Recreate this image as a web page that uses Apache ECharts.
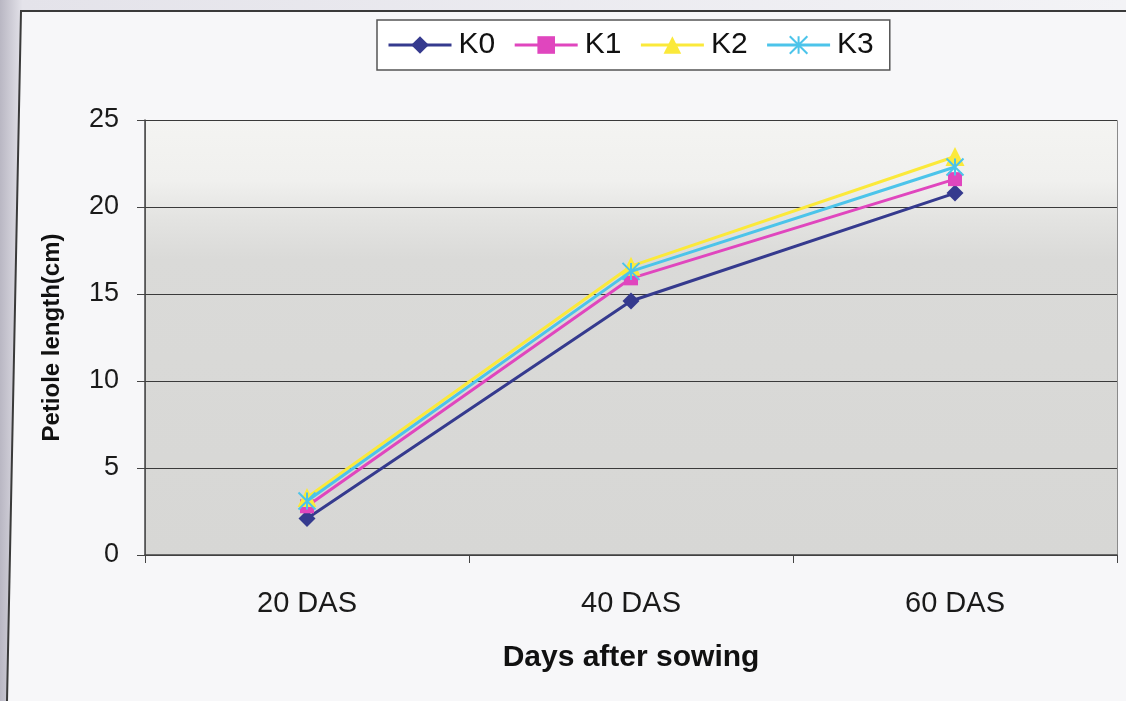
<!DOCTYPE html>
<html>
<head>
<meta charset="utf-8">
<script src="https://cdn.jsdelivr.net/npm/echarts@6/dist/echarts.min.js"></script>
<style>
  html, body { margin: 0; padding: 0; background: #f6f6f8; }
  #chart { width: 1126px; height: 701px; }
</style>
</head>
<body>
<div id="chart"></div>
<script>
// Petiole length (cm) at each sampling date, per potassium treatment
const categories = ['20 DAS', '40 DAS', '60 DAS'];
const seriesNames = ['K0', 'K1', 'K2', 'K3'];
const k0 = [2.1, 14.6, 20.8];
const k1 = [2.8, 15.9, 21.6];
const k2 = [3.3, 16.6, 22.9];
const k3 = [3.1, 16.3, 22.3];
const yTicks = { min: 0, max: 25, interval: 5 };

const colors = ['#353a8e', '#e046be', '#fbe93a', '#4cc4ea'];
const symbols = ['diamond', 'rect', 'triangle', 'path://M0,0L10,10M10,0L0,10M5,0L5,10'];
const sizes = [17, 14, 19, 17];
const values = [k0, k1, k2, k3];
const FONT = 'Liberation Sans, Arial, sans-serif';

const chart = echarts.init(document.getElementById('chart'));

const series = seriesNames.map((name, i) => ({
  name,
  type: 'line',
  data: values[i],
  symbol: symbols[i],
  symbolSize: sizes[i],
  lineStyle: { color: colors[i], width: 3 },
  itemStyle: i === 3
    ? { color: colors[i], borderColor: colors[i], borderWidth: 2 }
    : { color: colors[i], borderWidth: 0 },
  z: 3 + i
}));

chart.setOption({
  backgroundColor: '#f7f7f9',
  animation: false,
  graphic: [
    // shaded margin outside the chart frame
    { type: 'polygon', shape: { points: [[0, 0], [1126, 0], [1126, 11], [21, 11], [7, 701], [0, 701]] },
      style: { fill: new echarts.graphic.LinearGradient(0, 0, 1, 0, [
        { offset: 0, color: '#b9b7c3' }, { offset: 0.02, color: '#e4e3ea' }, { offset: 1, color: '#f3f3f6' }
      ]) }, z: 0 },
    // chart frame (top and left edges)
    { type: 'polyline', shape: { points: [[1126, 11], [21, 11], [7, 701]] },
      style: { stroke: '#3a3a3a', lineWidth: 2, fill: null }, z: 1 },
    // plot area background, lighter toward the top
    { type: 'rect', left: 145, top: 120, shape: { width: 972, height: 435 },
      style: {
        fill: new echarts.graphic.LinearGradient(0, 0, 0, 1, [
          { offset: 0, color: '#f4f4f2' },
          { offset: 0.14, color: '#f0f0ee' },
          { offset: 0.22, color: '#e4e4e2' },
          { offset: 0.32, color: '#dadad8' },
          { offset: 1, color: '#d7d7d5' }
        ]),
        stroke: '#8a8a8a', lineWidth: 1
      }, z: -1 }
  ],
  legend: {
    data: seriesNames,
    top: 20,
    left: 377,
    padding: [10, 16, 10, 10],
    itemGap: 18,
    itemWidth: 63,
    itemHeight: 22,
    lineStyle: { width: 3 },
    backgroundColor: '#ffffff',
    borderColor: '#555',
    borderWidth: 1.5,
    borderRadius: 0,
    textStyle: { fontFamily: FONT, fontSize: 30, color: '#111', padding: [0, 0, 0, 2] }
  },
  grid: { left: 145, right: 9, top: 120, bottom: 146, containLabel: false },
  xAxis: {
    type: 'category',
    data: categories,
    boundaryGap: true,
    name: 'Days after sowing',
    nameLocation: 'middle',
    nameGap: 88,
    nameTextStyle: { fontFamily: FONT, fontSize: 30, fontWeight: 'bold', color: '#111' },
    axisLine: { lineStyle: { color: '#444', width: 1.5 } },
    axisTick: { show: true, length: 8, lineStyle: { color: '#444' } },
    axisLabel: { fontFamily: FONT, fontSize: 29, color: '#1a1a1a', margin: 34 },
    splitLine: { show: false }
  },
  yAxis: {
    type: 'value',
    min: yTicks.min,
    max: yTicks.max,
    interval: yTicks.interval,
    name: 'Petiole length(cm)',
    nameLocation: 'middle',
    nameGap: 81,
    nameTextStyle: { fontFamily: FONT, fontSize: 24, fontWeight: 'bold', color: '#111' },
    axisLine: { show: true, lineStyle: { color: '#444', width: 1.5 } },
    axisTick: { show: true, inside: false, length: 8, lineStyle: { color: '#444' } },
    axisLabel: { fontFamily: FONT, fontSize: 27, color: '#1a1a1a', margin: 26 },
    splitLine: { show: true, lineStyle: { color: '#3a3a3a', width: 1 } }
  },
  series
});
</script>
</body>
</html>
